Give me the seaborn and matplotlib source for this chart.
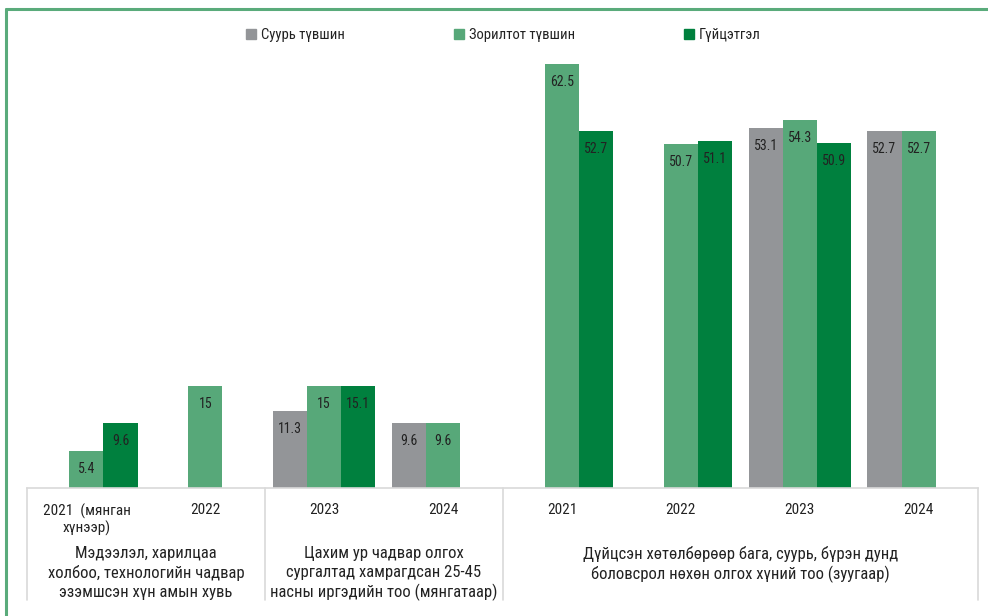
import numpy as np
import pandas as pd
import matplotlib
matplotlib.use("Agg")
import matplotlib.pyplot as plt
from matplotlib.lines import Line2D
import seaborn as sns

# ---- data ----
slots = ["a2021", "a2022", "b2023", "b2024", "c2021", "c2022", "c2023", "c2024"]
year_labels = ["2021  (мянган\nхүнээр)", "2022", "2023", "2024",
               "2021", "2022", "2023", "2024"]
series = ["Суурь түвшин", "Зорилтот түвшин", "Гүйцэтгэл"]

base = [np.nan, np.nan, 11.3, 9.6, np.nan, np.nan, 53.1, 52.7]
target = [5.4, 15, 15, 9.6, 62.5, 50.7, 54.3, 52.7]
actual = [9.6, np.nan, 15.1, np.nan, 52.7, 51.1, 50.9, np.nan]

group_labels = [
    "Мэдээлэл, харилцаа\nхолбоо, технологийн чадвар\nэзэмшсэн хүн амын хувь",
    "Цахим ур чадвар олгох\nсургалтад хамрагдсан 25-45\nнасны иргэдийн тоо (мянгатаар)",
    "Дүйцсэн хөтөлбөрөөр бага, суурь, бүрэн дунд\nболовсрол нөхөн олгох хүний тоо (зуугаар)",
]
group_centers = [0.5, 2.5, 5.5]
separators = [-0.5, 1.5, 3.5, 7.5]

colors = ["#939598", "#57a879", "#00803e"]

df = pd.DataFrame({
    "slot": slots * 3,
    "series": np.repeat(series, len(slots)),
    "value": base + target + actual,
}).dropna()

sns.set_theme(style="white")
plt.rcParams["font.family"] = ["Roboto Condensed", "Roboto", "DejaVu Sans"]

fig = plt.figure(figsize=(9.88, 6.16), dpi=100)
W, H = 988, 616
ax = fig.add_axes([27 / W, 1 - 488 / H, (978 - 27) / W, (488 - 20) / H])

sns.barplot(data=df, x="slot", y="value", hue="series", order=slots,
            hue_order=series, palette=colors, width=0.86, linewidth=0,
            saturation=1, ax=ax, legend=True)

for cont in ax.containers:
    ax.bar_label(cont, labels=[f"{v:g}" for v in cont.datavalues],
                 padding=-18, fontsize=10, color="#222222")

ax.set_ylim(0, 69)
ax.set_xlim(-0.5, 7.5)
ax.set_yticks([])
ax.set_xlabel("")
ax.set_ylabel("")
ax.set_xticks(range(len(slots)))
ax.set_xticklabels(year_labels, fontsize=11, color="#222222")
ax.tick_params(axis="x", length=0, pad=11)
for s in ["top", "right", "left"]:
    ax.spines[s].set_visible(False)
ax.spines["bottom"].set_color("#d9d9d9")
ax.spines["bottom"].set_linewidth(1.2)

# category separators below the axis
ax_h = (488 - 20)
for xs in separators:
    ax.add_line(Line2D([xs, xs], [0, -112 / ax_h], transform=ax.get_xaxis_transform(),
                       color="#d9d9d9", lw=1.2, clip_on=False))

for xc, lab in zip(group_centers, group_labels):
    ax.text(xc, -58 / ax_h, lab, transform=ax.get_xaxis_transform(),
            ha="center", va="top", fontsize=12, color="#222222",
            linespacing=1.3)

# legend
ax.legend_.remove()
sq = [Line2D([], [], marker="s", ls="", markersize=7, color=c) for c in colors]
fig.legend(sq, series, loc="center", bbox_to_anchor=(503 / W, 1 - 35 / H),
           ncol=3, frameon=False, fontsize=10.5, columnspacing=7.4,
           handlelength=0.8, handletextpad=0.3, labelcolor="#222222")

# green frame (top and left)
fig.add_artist(Line2D([6 / W, 1], [1 - 9 / H, 1 - 9 / H], color="#5aab7b", lw=2.2))
fig.add_artist(Line2D([6 / W, 6 / W], [0, 1 - 9 / H], color="#5aab7b", lw=2.2))

fig.savefig("out.png", dpi=100)
